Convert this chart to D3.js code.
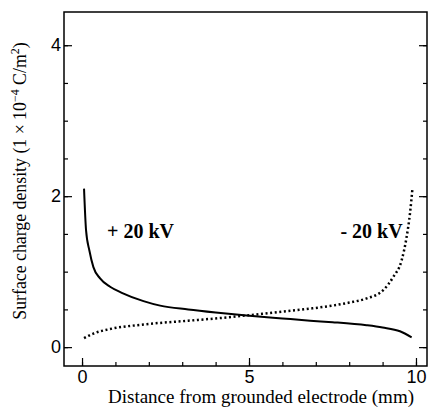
<!DOCTYPE html>
<html>
<head>
  <meta charset="utf8">
  <title>Surface charge density</title>
  <style>
  * { margin: 0; padding: 0; }
  body { background: #fff; }
  </style>
</head>
<body>
  <script src="https://cdn.jsdelivr.net/npm/d3@7"></script>
  <script>
  var w = 429;
  var h = 408;

  // +20 kV (solid)
  var posX = [0.06, 0.12, 0.22, 0.34, 0.54, 0.84, 1.19, 1.84, 2.34, 3.18, 4.0, 4.93, 6.0, 6.83, 7.5, 8.52, 9.0, 9.52, 9.87];
  var posY = [2.10, 1.55, 1.28, 1.06, 0.91, 0.80, 0.72, 0.61, 0.55, 0.50, 0.46, 0.42, 0.38, 0.35, 0.33, 0.29, 0.26, 0.21, 0.13];
  // -20 kV (dotted)
  var negX = [0.06, 0.34, 0.84, 1.84, 3.18, 4.0, 4.93, 6.0, 6.83, 7.5, 8.0, 8.52, 9.02, 9.32, 9.57, 9.72, 9.82, 9.89];
  var negY = [0.12, 0.18, 0.24, 0.30, 0.35, 0.38, 0.42, 0.47, 0.51, 0.55, 0.59, 0.645, 0.755, 0.93, 1.15, 1.46, 1.77, 2.08];

  var xTicks = [0, 5, 10];
  var xMinor = [0, 1, 2, 3, 4, 5, 6, 7, 8, 9, 10];
  var yTicks = [0, 2, 4];
  var yMinor = [0, 0.5, 1, 1.5, 2, 2.5, 3, 3.5, 4];
  var labels = ["+ 20 kV", "- 20 kV"];

  var m = {left: 64, right: 427, top: 12, bottom: 366};

  var x = d3.scaleLinear().domain([-0.54, 10.33]).range([m.left, m.right]);
  var y = d3.scaleLinear().domain([-0.25, 4.44]).range([m.bottom, m.top]);

  var svg = d3.select("body").append("svg")
    .attr("width", w)
    .attr("height", h);

  // frame
  svg.append("rect")
    .attr("x", m.left).attr("y", m.top)
    .attr("width", m.right - m.left).attr("height", m.bottom - m.top)
    .attr("fill", "none").attr("stroke", "#000").attr("stroke-width", 1.5);

  // axes
  function style(g) {
    g.select(".domain").remove();
    g.selectAll("line").attr("stroke", "#000").attr("stroke-width", 1.2);
    g.selectAll("text").attr("font-family", "Liberation Sans, Arial, sans-serif")
      .attr("font-size", "18px").attr("fill", "#000");
  }

  svg.append("g").attr("transform", "translate(0," + m.bottom + ")")
    .call(d3.axisBottom(x).tickValues(xMinor).tickSize(-4).tickFormat(""))
    .call(style);
  svg.append("g").attr("transform", "translate(0," + m.bottom + ")")
    .call(d3.axisBottom(x).tickValues(xTicks).tickSize(-8).tickPadding(4).tickFormat(d3.format("d")))
    .call(style);

  svg.append("g").attr("transform", "translate(" + m.left + ",0)")
    .call(d3.axisLeft(y).tickValues(yMinor).tickSize(-4).tickFormat(""))
    .call(style);
  svg.append("g").attr("transform", "translate(" + m.left + ",0)")
    .call(d3.axisLeft(y).tickValues(yTicks).tickSize(-8).tickPadding(3).tickFormat(d3.format("d")))
    .call(style);

  svg.append("g").attr("transform", "translate(" + m.right + ",0)")
    .call(d3.axisRight(y).tickValues(yMinor).tickSize(-4).tickFormat(""))
    .call(style);
  svg.append("g").attr("transform", "translate(" + m.right + ",0)")
    .call(d3.axisRight(y).tickValues(yTicks).tickSize(-8).tickFormat(""))
    .call(style);

  // curves
  var line = d3.line()
    .x(function(d) { return x(d[0]); })
    .y(function(d) { return y(d[1]); })
    .curve(d3.curveMonotoneX);

  svg.append("path")
    .datum(d3.zip(posX, posY))
    .attr("d", line)
    .attr("fill", "none").attr("stroke", "#000").attr("stroke-width", 2);

  svg.append("path")
    .datum(d3.zip(negX, negY))
    .attr("d", line)
    .attr("fill", "none").attr("stroke", "#000").attr("stroke-width", 2.5)
    .attr("stroke-dasharray", "2,2.6");

  // series labels
  svg.append("text")
    .attr("x", x(0.75)).attr("y", y(1.45))
    .attr("font-family", "Liberation Serif, Times New Roman, serif")
    .attr("font-size", "20px").attr("font-weight", "bold")
    .text(labels[0]);
  svg.append("text")
    .attr("x", x(9.6)).attr("y", y(1.45))
    .attr("text-anchor", "end")
    .attr("font-family", "Liberation Serif, Times New Roman, serif")
    .attr("font-size", "20px").attr("font-weight", "bold")
    .text(labels[1]);

  // axis titles
  svg.append("text")
    .attr("x", 261).attr("y", 403)
    .attr("text-anchor", "middle")
    .attr("font-family", "Liberation Serif, Times New Roman, serif")
    .attr("font-size", "19px")
    .text("Distance from grounded electrode (mm)");

  var yt = svg.append("text")
    .attr("transform", "translate(26,181) rotate(-90)")
    .attr("text-anchor", "middle")
    .attr("font-family", "Liberation Serif, Times New Roman, serif")
    .attr("font-size", "17.8px");
  yt.append("tspan").text("Surface charge density (1 \u00d7 10");
  yt.append("tspan").attr("dy", -7).attr("font-size", "12px").text("\u22124");
  yt.append("tspan").attr("dy", 7).text(" C/m");
  yt.append("tspan").attr("dy", -7).attr("font-size", "12px").text("2");
  yt.append("tspan").attr("dy", 7).text(")");
  </script>
</body>
</html>
